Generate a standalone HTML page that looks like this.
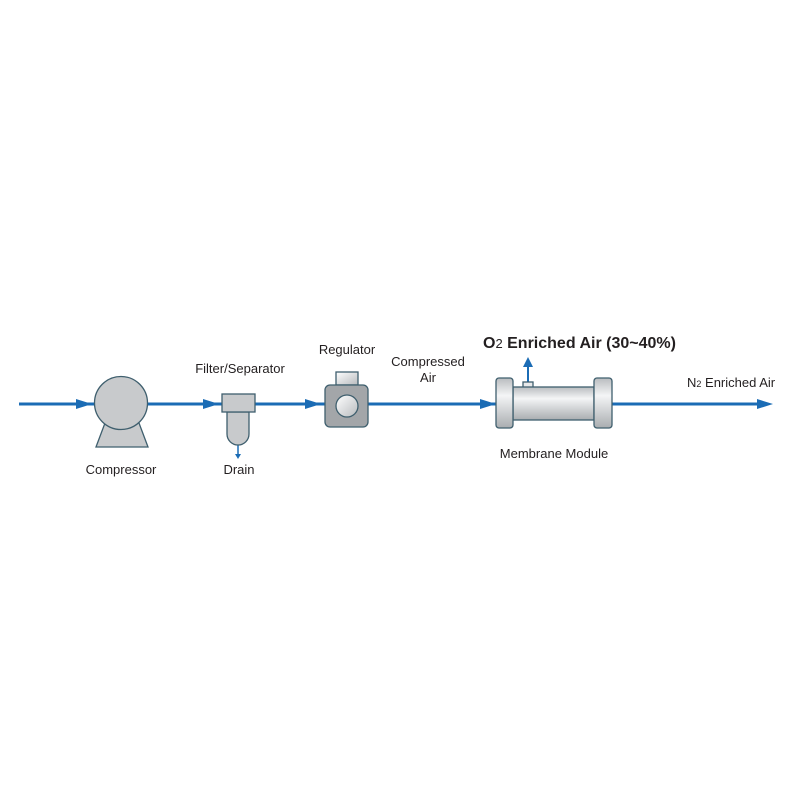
<!DOCTYPE html>
<html><head><style>body{margin:0;background:#fff}svg{display:block}text{font-family:"Liberation Sans",sans-serif;fill:#231f20}</style></head>
<body>
<svg width="800" height="800" viewBox="0 0 800 800">
<defs>
<linearGradient id="m" x1="0" y1="0" x2="0" y2="1">
<stop offset="0" stop-color="#b9bcbf"/><stop offset="0.35" stop-color="#f4f5f6"/><stop offset="1" stop-color="#a9adb0"/></linearGradient>
<linearGradient id="c" x1="0" y1="0" x2="1" y2="1"><stop offset="0" stop-color="#ffffff"/><stop offset="1" stop-color="#b8bbbe"/></linearGradient>
</defs>
<g stroke="#1b6cb5" stroke-width="3" fill="none">
<line x1="19" y1="404" x2="760" y2="404"/>
<line x1="238" y1="444" x2="238" y2="454" stroke-width="1.5"/>
<line x1="528" y1="382" x2="528" y2="366" stroke-width="2"/>
</g>
<g fill="#1b6cb5">
<polygon points="76,399 92,404 76,409"/>
<polygon points="203,399 219,404 203,409"/>
<polygon points="305,399 321,404 305,409"/>
<polygon points="480,399 496,404 480,409"/>
<polygon points="757,399 773,404 757,409"/>
<polygon points="235,454 241,454 238,459"/>
<polygon points="523,367 533,367 528,357"/>
</g>
<g stroke="#3f5f6e" stroke-width="1.3">
<polygon points="105,423 139,423 148,447 96,447" fill="#c8cacc"/>
<circle cx="121" cy="403" r="26.5" fill="#c8cacc"/>
<path d="M227,412 H249 V434 A11,11 0 0 1 227,434 Z" fill="#c8cacc"/>
<rect x="222" y="394" width="33" height="18" fill="#c8cacc"/>
<rect x="336" y="372" width="22" height="13" fill="url(#c)"/>
<rect x="325" y="385" width="43" height="42" rx="5" fill="#a3a6a9"/>
<circle cx="347" cy="406" r="11" fill="url(#c)"/>
<rect x="523" y="382" width="10" height="6" fill="#e8e9ea"/>
<rect x="513" y="387" width="81" height="33" fill="url(#m)"/>
<rect x="496" y="378" width="17" height="50" rx="3" fill="url(#m)"/>
<rect x="594" y="378" width="18" height="50" rx="3" fill="url(#m)"/>
</g>
<g font-size="13" text-anchor="middle">
<text x="121" y="474">Compressor</text>
<text x="239" y="474">Drain</text>
<text x="240" y="373">Filter/Separator</text>
<text x="347" y="354">Regulator</text>
<text x="428" y="366">Compressed</text>
<text x="428" y="382">Air</text>
<text x="554" y="458">Membrane Module</text>
</g>
<text x="483" y="348" font-size="16" font-weight="bold" fill="#231f20">O<tspan font-size="13" font-weight="normal">2</tspan> Enriched Air (30~40%)</text>
<text x="687" y="387" font-size="13">N<tspan font-size="9">2</tspan> Enriched Air</text>
</svg>
</body></html>
